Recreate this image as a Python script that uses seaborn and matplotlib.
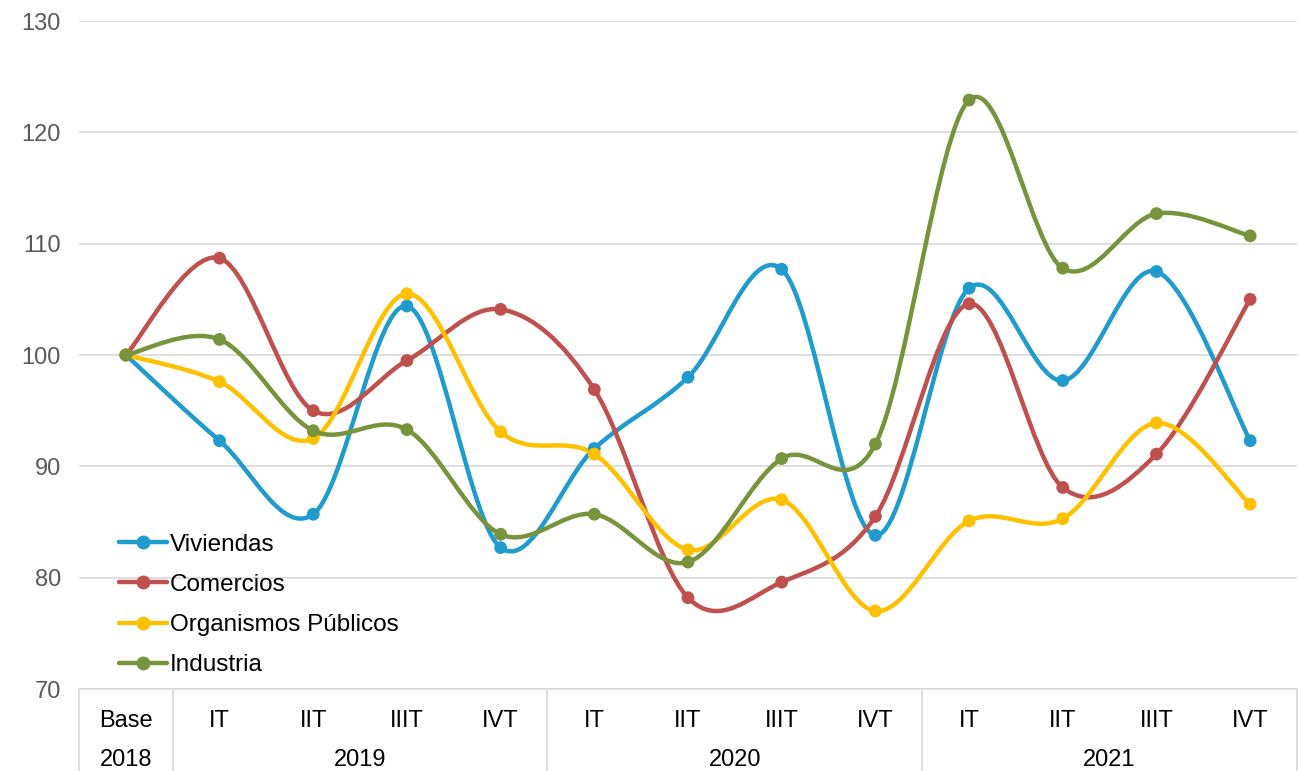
import numpy as np
import pandas as pd
import matplotlib
matplotlib.use("Agg")
import matplotlib.pyplot as plt
from matplotlib.path import Path
from matplotlib.patches import PathPatch
from matplotlib.lines import Line2D
import seaborn as sns

# %% datos
periodos = ["Base", "IT", "IIT", "IIIT", "IVT", "IT", "IIT", "IIIT", "IVT", "IT", "IIT", "IIIT", "IVT"]
anios = ["2018", "2019", "2020", "2021"]
viviendas = [100, 92.3, 85.7, 104.4, 82.7, 91.6, 98.0, 107.7, 83.8, 106.0, 97.7, 107.5, 92.3]
comercios = [100, 108.7, 95.0, 99.5, 104.1, 96.9, 78.2, 79.6, 85.5, 104.6, 88.1, 91.1, 105.0]
organismos = [100, 97.6, 92.5, 105.5, 93.1, 91.1, 82.5, 87.0, 77.0, 85.1, 85.3, 93.9, 86.6]
industria = [100, 101.4, 93.2, 93.3, 83.9, 85.7, 81.4, 90.7, 92.0, 122.9, 107.8, 112.7, 110.7]

series = {"Viviendas": viviendas, "Comercios": comercios,
          "Organismos Públicos": organismos, "Industria": industria}
colores = {"Viviendas": "#1F9BCE", "Comercios": "#C0504D",
           "Organismos Públicos": "#FFC000", "Industria": "#77933C"}

df = pd.concat([pd.DataFrame({"pos": np.arange(len(periodos)), "valor": v, "serie": k})
                for k, v in series.items()], ignore_index=True)

# %% estilo
sns.set_style("white")
plt.rcParams["font.family"] = ["Liberation Sans", "DejaVu Sans"]

fig = plt.figure(figsize=(12.99, 7.71), dpi=100)
ax = fig.add_axes([79 / 1299, 1 - 689 / 771, 1218 / 1299, 668 / 771])


def curva_suave(x, y):
    # curva tipo Excel: bezier cubica con puntos de control de Catmull-Rom
    pts = np.column_stack([x, y]).astype(float)
    verts = [pts[0]]
    codes = [Path.MOVETO]
    n = len(pts)
    for i in range(n - 1):
        p0 = pts[i - 1] if i > 0 else pts[i]
        p3 = pts[i + 2] if i + 2 < n else pts[i + 1]
        c1 = pts[i] + (pts[i + 1] - p0) / 6
        c2 = pts[i + 1] - (p3 - pts[i]) / 6
        verts += [c1, c2, pts[i + 1]]
        codes += [Path.CURVE4] * 3
    return Path(verts, codes)


for nombre in series:
    d = df[df["serie"] == nombre]
    ax.add_patch(PathPatch(curva_suave(d["pos"], d["valor"]), facecolor="none",
                           edgecolor=colores[nombre], lw=3.2, capstyle="round",
                           joinstyle="round", zorder=3))

sns.scatterplot(data=df, x="pos", y="valor", hue="serie", palette=colores, s=85,
                edgecolor="none", legend=False, ax=ax, zorder=4)

# %% ejes
ax.set_xlim(-0.5, len(periodos) - 0.5)
ax.set_ylim(70, 130)
ax.set_yticks(range(70, 131, 10))
ax.yaxis.grid(True, color="#D9D9D9", lw=1.2)
ax.set_axisbelow(True)
for s in ["top", "right", "left"]:
    ax.spines[s].set_visible(False)
ax.spines["bottom"].set_color("#D9D9D9")
ax.spines["bottom"].set_linewidth(1.2)
ax.tick_params(axis="y", length=0, labelsize=17, labelcolor="#595959", pad=13)
ax.set_xticks(range(len(periodos)))
ax.set_xticklabels(periodos)
ax.tick_params(axis="x", length=0, labelsize=17, labelcolor="#000000", pad=15)
ax.set_xlabel("")
ax.set_ylabel("")

# etiquetas de año y separadores
centros = [0, 2.5, 6.5, 10.5]
for c, a in zip(centros, anios):
    ax.text(c, -0.107, a, transform=ax.get_xaxis_transform(), ha="center", va="center",
            fontsize=17, color="#000000")
for xs in [-0.5, 0.5, 4.5, 8.5, 12.5]:
    ax.plot([xs, xs], [0, -0.125], transform=ax.get_xaxis_transform(), color="#D9D9D9",
            lw=1.2, clip_on=False)

handles = [Line2D([0], [0], color=colores[k], lw=3.2, marker="o", markersize=9)
           for k in series]
ax.legend(handles, list(series.keys()), loc="upper left", bbox_to_anchor=(0.019, 0.258),
          frameon=False, fontsize=17.5, handlelength=1.95, handletextpad=0.15,
          labelspacing=0.75, borderpad=0.2, labelcolor="#000000")

plt.savefig("out.png", dpi=100)
